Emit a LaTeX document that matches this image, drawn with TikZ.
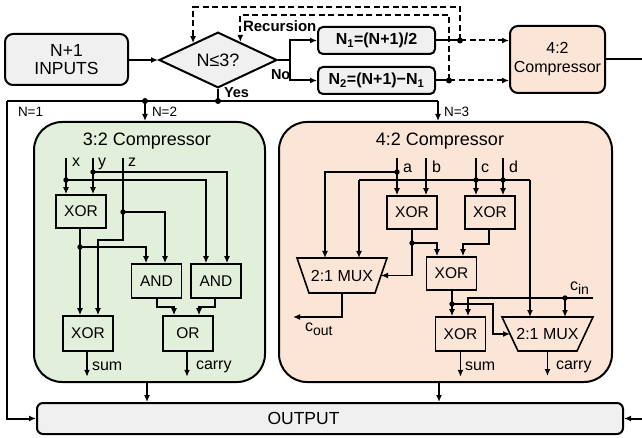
\documentclass[tikz,border=0pt]{standalone}
\usepackage{fontspec}
\setmainfont{Liberation Sans}
\usetikzlibrary{arrows.meta,shapes.geometric,calc}
\definecolor{boxgray}{HTML}{F0F0F0}
\definecolor{cgreen}{HTML}{E2EFDA}
\definecolor{cpeach}{HTML}{FBE5D6}
\newcommand\bigsub[1]{\raisebox{-4pt}{\fontsize{14}{15}\selectfont #1}}
\begin{document}
\begin{tikzpicture}[x=1pt,y=-1pt,line width=2pt,
  >={Latex[length=7pt,width=6pt]},
  every node/.style={inner sep=0pt},
  gate/.style={draw,line width=1.6pt,minimum width=50pt,minimum height=34pt,font=\fontsize{15.5}{17}\selectfont},
  wire/.style={line width=1.7pt},
  lab/.style={font=\fontsize{16}{18}\selectfont},
  small/.style={font=\fontsize{13.5}{15}\selectfont},
  blab/.style={font=\bfseries\fontsize{14.5}{16}\selectfont},
  dsh/.style={dash pattern=on 6pt off 3.5pt},
  ttl/.style={font=\fontsize{18}{20}\selectfont}]
\useasboundingbox (0,0) rectangle (642,438);

% ---------- top row ----------
\node[draw,fill=boxgray,rounded corners=8pt,minimum width=123pt,minimum height=51pt,align=center,font=\fontsize{17.5}{18}\selectfont] (inp) at (66.5,59.5) {N+1\\INPUTS};
\node[diamond,draw,fill=boxgray,minimum width=118pt,minimum height=46pt,font=\fontsize{18}{20}\selectfont] (dia) at (218,60) {N≤3?};
\node[draw,fill=boxgray,rounded corners=5pt,minimum width=117pt,minimum height=27pt,font=\bfseries\fontsize{16}{18}\selectfont] (n1) at (376.5,40.5) {N\textsubscript{1}=(N+1)/2};
\node[draw,fill=boxgray,rounded corners=5pt,minimum width=117pt,minimum height=27pt,font=\bfseries\fontsize{16}{18}\selectfont] (n2) at (376.5,80.5) {N\textsubscript{2}=(N+1)−N\textsubscript{1}};
\node[draw,fill=cpeach,rounded corners=8pt,minimum width=95pt,minimum height=67pt,align=center,font=\fontsize{16}{19}\selectfont] (comp) at (557.5,59.5) {4:2\\Compressor};

\draw[->] (inp.east |- dia.west) -- (dia.west);
\coordinate (br) at (290,60);
\draw (dia.east) -- (br);
\draw[->] (br) |- (n1.west);
\draw[->] (br) |- (n2.west);
\coordinate (d1) at (460,40.5);
\coordinate (d2) at (449,80.5);
\coordinate (t1) at (460,7);
\coordinate (t2) at (449,15);
\draw[->,dsh] (d1) -- (t1) -| (dia.146.8);
\draw[->,dsh] (d2) -- (t2) -| (dia.39.4);
\draw (n1.east) -- (d1);
\draw (n2.east) -- (d2);
\draw[->,dsh] (d1) -- (d1 -| comp.west);
\draw[->,dsh] (d2) -- (d2 -| comp.west);
\fill (d1) circle (3pt);
\fill (d2) circle (3pt);

\node[blab,anchor=base west,font=\bfseries\fontsize{15}{16}\selectfont] (rec) at (242,32) {Recursion};
\node[blab,anchor=base west] (no) at (270,80) {No};
\node[blab,anchor=base west] (yes) at (223,98) {Yes};

% ---------- big boxes ----------
\node[draw,fill=cgreen,rounded corners=28pt,minimum width=231pt,minimum height=260pt] (g) at (149.5,252) {};
\node[draw,fill=cpeach,rounded corners=28pt,minimum width=333pt,minimum height=260pt] (p) at (445.5,252) {};
\node[draw,fill=boxgray,rounded corners=6pt,minimum width=586pt,minimum height=31pt] (out) at (330,418.5) {};
\node[font=\fontsize{17.5}{18}\selectfont] (outt) at (303.5,418.5) {OUTPUT};

\node[ttl,anchor=base] (gt) at (147,146) {3:2 Compressor};
\node[ttl,anchor=base] (pt) at (440,146) {4:2 Compressor};

% ---------- distribution ----------
\coordinate (jY) at (218,101);
\coordinate (jL) at (7,101);
\coordinate (j2) at (145,101);
\coordinate (j3) at (438,101);
\coordinate (jR) at (643,59.5);
\draw (dia.south) -- (jY);
\draw (jL) -- (j3);
\draw[->] (jL) -- (jL |- out.west) -- (out.west);
\draw[->] (j2) -- (j2 |- g.north);
\draw[->] (j3) -- (j3 |- p.north);
\draw[->] (comp.east) -- (jR) -- (jR |- out.east) -- (out.east);
\coordinate (gb) at ($(g.south)+(-2.5,0)$);
\coordinate (pb) at ($(p.south)+(-6.5,0)$);
\draw[->] (gb) -- (gb |- out.north);
\draw[->] (pb) -- (pb |- out.north);
\fill (jY) circle (3pt);
\fill (j2) circle (3pt);
\node[small,anchor=base west] (l1) at (17,117) {N=1};
\node[small,anchor=base west] (l2) at (151,117) {N=2};
\node[small,anchor=base west] (l3) at (443,117) {N=3};

% ---------- 3:2 compressor ----------
\node[gate,minimum height=33pt] (x1) at (81,211.5) {XOR};
\node[gate] (a1) at (156.5,281) {AND};
\node[gate] (a2) at (216,281) {AND};
\node[gate,minimum height=35pt] (x2) at (88,333.5) {XOR};
\node[gate,minimum height=35pt] (or) at (188,333.5) {OR};

\coordinate (ix) at (66,158);
\coordinate (iy) at (93,158);
\coordinate (iz) at (123,158);
\coordinate (dx) at (66,180);
\coordinate (dy) at (93,172);
\coordinate (dz) at (123,212);
\coordinate (dxo) at (80,247);
\draw[wire,->] (ix) -- (ix |- x1.north);
\draw[wire,->] (iy) -- (iy |- x1.north);
\draw[wire,->] (dx) -| ($(a2.north)+(-10,0)$);
\draw[wire,->] (dy) -| ($(a2.north)+(11,0)$);
\draw[wire,->] (iz) -- (123,240) -| ($(x2.north)+(10,0)$);
\draw[wire,->] (dz) -| ($(a1.north)+(8.5,0)$);
\draw[wire,->] (x1.south -| dxo) -- ($(x2.north)+(-8,0)$);
\draw[wire,->] (dxo) -| ($(a1.north)+(-10.5,0)$);
\draw[wire,->] ($(a1.south)+(0.5,0)$) -- ++(0,8) -| ($(or.north)+(-14,0)$);
\draw[wire,->] ($(a2.south)+(-1,0)$) -- ++(0,8) -| ($(or.north)+(11,0)$);
\draw[wire,->] ($(x2.south)+(-1,0)$) -- ++(0,25);
\draw[wire,->] ($(or.south)+(-1,0)$) -- ++(0,25);
\foreach \d in {dx,dy,dz,dxo} \fill (\d) circle (2.7pt);
\node[lab,anchor=base west] (lx) at (71,167) {x};
\node[lab,anchor=base west] (ly) at (97,167) {y};
\node[lab,anchor=base west] (lz) at (127,167) {z};
\node[lab,anchor=base west] (ls1) at (91,370) {sum};
\node[lab,anchor=base west] (lc1) at (195,369) {carry};

% ---------- 4:2 compressor ----------
\node[gate,minimum height=33pt] (xa) at (412,212.5) {XOR};
\node[gate,minimum height=33pt] (xb) at (490,212.5) {XOR};
\node[gate,minimum height=33pt] (xc) at (451.5,273.5) {XOR};
\node[gate] (xd) at (460.5,334) {XOR};
\coordinate (m1a) at (297,258);
\coordinate (m1b) at (387,258);
\coordinate (m1c) at (375,293);
\coordinate (m1d) at (309,293);
\coordinate (m2a) at (502,317);
\coordinate (m2b) at (593,317);
\coordinate (m2c) at (577,351);
\coordinate (m2d) at (518,351);
\draw[line width=1.6pt] (m1a) -- (m1b) -- (m1c) -- (m1d) -- cycle;
\draw[line width=1.6pt] (m2a) -- (m2b) -- (m2c) -- (m2d) -- cycle;
\node[lab] (m1) at (342,275.5) {2:1 MUX};
\node[lab] (m2) at (547.5,334) {2:1 MUX};
\coordinate (m1r) at ($(m1b)!0.5!(m1c)$);
\coordinate (m2l) at ($(m2a)!0.5!(m2d)$);
\coordinate (m1o) at ($(m1c)!0.5!(m1d)$);
\coordinate (m2o) at ($(m2c)!0.5!(m2d)$);

\coordinate (ia) at (397,158);
\coordinate (ib) at (426,158);
\coordinate (ic) at (476,158);
\coordinate (id) at (503,158);
\coordinate (da) at (397,172);
\coordinate (dc) at (476,180);
\coordinate (dd) at (503,180);
\coordinate (cL) at (359,180);
\coordinate (cR) at (530,180);
\coordinate (m1l) at (325,258);
\coordinate (dao) at (412,243);
\coordinate (dco) at (452,304);
\coordinate (cin) at (593,298);
\coordinate (dci) at (565,298);
\draw[wire,->] (ia) -- (ia |- xa.north);
\draw[wire,->] (ib) -- (ib |- xa.north);
\draw[wire,->] (ic) -- (ic |- xb.north);
\draw[wire,->] (id) -- (id |- xb.north);
\draw[wire,->] (da) -| (m1l);
\draw[wire] (cL) -- (cR);
\draw[wire,->] (cL) -- (cL |- m1a);
\draw[wire,->] (cR) -- (cR |- m2a);
\draw[wire] (xa.south) -- (dao);
\draw[wire,->] (dao) -| ($(xc.north)+(-14.5,0)$);
\draw[wire,->] (dao) |- (m1r);
\draw[wire,->] ($(xb.south)+(-1,0)$) -- ++(0,14) -| ($(xc.north)+(11.5,0)$);
\draw[wire] ($(xc.south)+(0.5,0)$) -- (dco);
\draw[wire,->] (dco) -- (dco |- xd.north);
\draw[wire,->] (dco) -- (493,304) |- (m2l);
\draw[wire,->] (cin) -| ($(xd.north)+(7.5,0)$);
\draw[wire,->] (dci) -- (dci |- m2a);
\draw[wire,->] (m1o) -- ++(0,24) -- ++(-49,0);
\draw[wire,->] (xd.south) -- ++(0,25);
\draw[wire,->] (m2o) -- ++(0,25);
\foreach \d in {da,dc,dd,dao,dco,dci} \fill (\d) circle (2.7pt);
\node[lab,anchor=base west] (la) at (402,173) {a};
\node[lab,anchor=base west] (lb) at (431,173) {b};
\node[lab,anchor=base west] (lc) at (480,173) {c};
\node[lab,anchor=base west] (ld) at (508,173) {d};
\node[lab,anchor=base west] (lco) at (304,331) {c\bigsub{out}};
\node[lab,anchor=base west] (lci) at (569,290) {c\bigsub{in}};
\node[lab,anchor=base west] (ls2) at (464,370) {sum};
\node[lab,anchor=base west] (lc2) at (555,369) {carry};
\end{tikzpicture}
\end{document}
